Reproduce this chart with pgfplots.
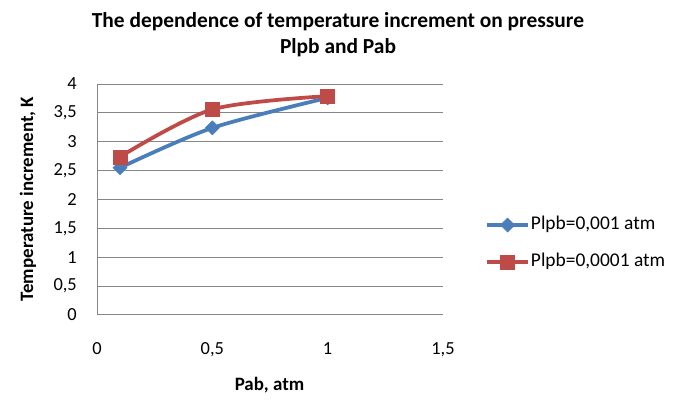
\documentclass[border=0pt]{standalone}
\usepackage{pgfplots}
\pgfplotsset{compat=1.18}
\usepackage{fontspec}
\setmainfont{Carlito}
\definecolor{exblue}{HTML}{4A7EBB}
\definecolor{exred}{HTML}{BE4B48}
\definecolor{exgrid}{HTML}{868686}
\begin{document}
\begin{tikzpicture}
\begin{axis}[
  at={(97bp,87bp)}, anchor=south west,
  scale only axis, width=346bp, height=231bp,
  xmin=0, xmax=1.5, ymin=0, ymax=4,
  xtick={0,0.5,1,1.5}, ytick={0,0.5,...,4},
  /pgf/number format/use comma,
  /pgf/number format/assume math mode=true,
  axis x line=bottom, axis y line=left,
  axis line style={-, draw=exgrid, line width=1bp},
  major tick length=0pt,
  ymajorgrids, grid style={draw=exgrid, line width=1bp},
  tick label style={font=\fontsize{18.5}{22}\selectfont, text=black},
  yticklabel style={anchor=east, inner sep=0pt, xshift=-20bp},
  xticklabel style={anchor=north, inner sep=0pt, yshift=-27bp},
  clip=false,
  legend style={at={(rel axis cs:1.1214,0.3095)}, anchor=west, draw=none, fill=none,
    inner sep=0pt, row sep=16bp, font=\fontsize{19.5}{23}\selectfont,
    nodes={inner sep=1bp, text height=14bp, text depth=5bp}},
  legend cell align=left,
  legend image code/.code={
    \draw[mark repeat=2,mark phase=2,#1] plot coordinates {(0bp,0bp) (20.5bp,0bp) (41bp,0bp)};},
]
\addplot[exblue, line width=3.75bp, smooth, mark=square*, mark size=5bp,
  mark options={rotate=45, fill=exblue, draw=exblue, line width=0.5bp}]
  coordinates {(0.1,2.55) (0.5,3.24) (1,3.76)};
\addlegendentry{Plpb=0,001 atm}
\addplot[exred, line width=3.75bp, smooth, mark=square*, mark size=7bp,
  mark options={fill=exred, draw=exred, line width=0.5bp}]
  coordinates {(0.1,2.74) (0.5,3.56) (1,3.79)};
\addlegendentry{Plpb=0,0001 atm}
\end{axis}
\node[anchor=base, font=\bfseries\fontsize{21.5}{26}\selectfont] at (338bp,374.5bp) {The dependence of temperature increment on pressure};
\node[anchor=base, font=\bfseries\fontsize{21.5}{26}\selectfont] at (338bp,348bp) {Plpb and Pab};
\node[rotate=90, font=\bfseries\fontsize{19}{23}\selectfont] at (28bp,203bp) {Temperature increment, K};
\node[anchor=base, font=\bfseries\fontsize{19}{23}\selectfont] at (269.5bp,12bp) {Pab, atm};
\pgfresetboundingbox
\path[use as bounding box] (0,0) rectangle (681bp,402bp);
\end{tikzpicture}
\end{document}
